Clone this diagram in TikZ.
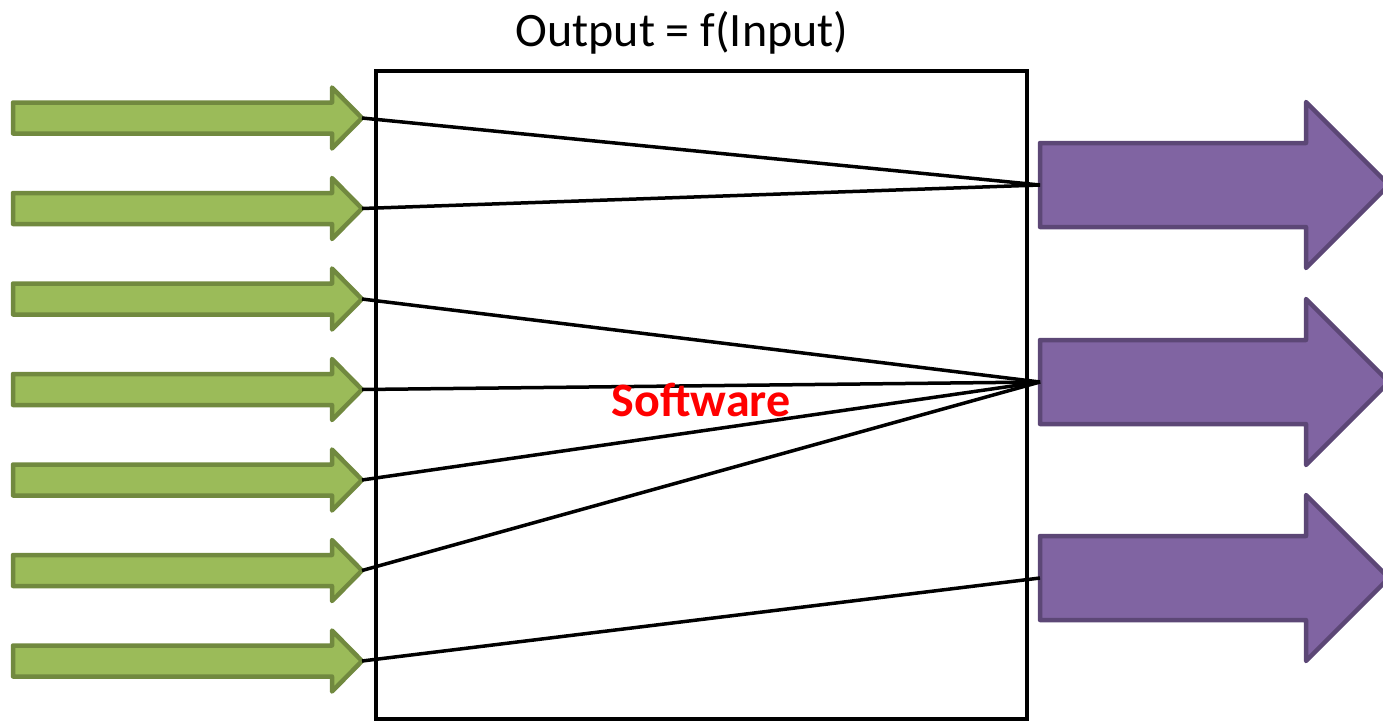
\documentclass[tikz,border=0pt]{standalone}
\usepackage{fontspec}
\setmainfont{Carlito}
\definecolor{gfill}{HTML}{9BBB59}
\definecolor{gline}{HTML}{71893F}
\definecolor{pfill}{HTML}{8064A2}
\definecolor{pline}{HTML}{5C4776}
\tikzset{
  garrow/.style={fill=gfill,draw=gline,line width=4.5pt,line join=round},
  parrow/.style={fill=pfill,draw=pline,line width=4.5pt,line join=round},
  wire/.style={draw=black,line width=3.5pt},
  boxstyle/.style={draw=black,line width=4pt,fill=none,inner sep=0pt,outer sep=0pt}
}
\begin{document}
\begin{tikzpicture}[x=1pt,y=-1pt]
\useasboundingbox (0,0) rectangle (1383,721);
\clip (0,0) rectangle (1383,721);
% box
\node[boxstyle,anchor=north west,minimum width=651pt,minimum height=648pt] (box) at (376,71) {};
% green input arrows
\foreach \i/\y in {1/118,2/208.5,3/299,4/389.5,5/480,6/570.5,7/661}{
  \draw[garrow] (13,{\y-15.5}) -- (332,{\y-15.5}) -- (332,{\y-30.5}) -- (362,\y) -- (332,{\y+30.5}) -- (332,{\y+15.5}) -- (13,{\y+15.5}) -- cycle;
  \coordinate (g\i) at (362,\y);
}
% purple output arrows
\foreach \j/\y in {1/185,2/382,3/578}{
  \draw[parrow] (1040,{\y-42}) -- (1306,{\y-42}) -- (1306,{\y-83}) -- (1389,\y) -- (1306,{\y+83}) -- (1306,{\y+42}) -- (1040,{\y+42}) -- cycle;
  \coordinate (p\j) at (1040,\y);
}
% wires
\draw[wire] (g1) -- (p1);
\draw[wire] (g2) -- (p1);
\draw[wire] (g3) -- (p2);
\draw[wire] (g4) -- (p2);
\draw[wire] (g5) -- (p2);
\draw[wire] (g6) -- (p2);
\draw[wire] (g7) -- (p3);
% labels
\node[inner sep=0pt] (title) at (682,33) {\fontsize{48}{54}\selectfont Output = f(Input)};
\node[inner sep=0pt,text=red] (sw) at (701,400) {\fontsize{48}{54}\selectfont\bfseries Software};
\end{tikzpicture}
\end{document}
